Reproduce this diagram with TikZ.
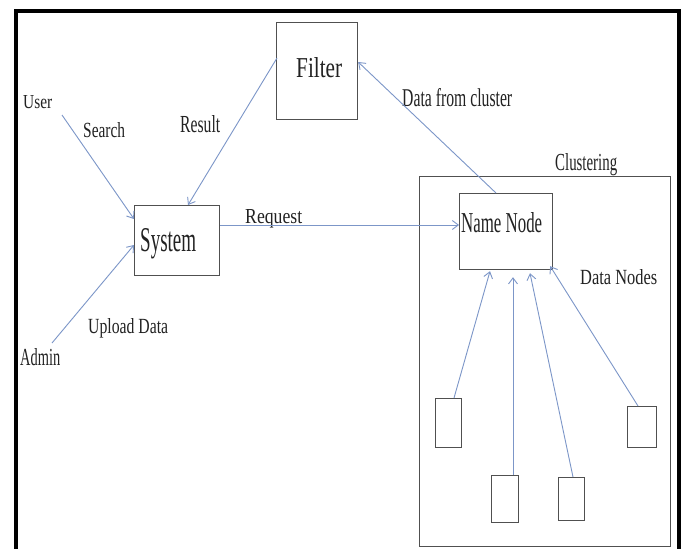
\documentclass[tikz,border=0pt]{standalone}
\usepackage{fontspec}
\setmainfont{Liberation Serif}
\usepackage{graphicx}
\usetikzlibrary{arrows.meta,calc}
\newcommand\fitxt[3]{\resizebox{#1pt}{#2pt}{#3}}
\definecolor{conncol}{HTML}{7C96C8}
\definecolor{boxcol}{HTML}{505050}
\definecolor{txtcol}{HTML}{222222}
\tikzset{
  box/.style={draw=boxcol, line width=1.2pt, rectangle, inner sep=0pt, anchor=north west},
  conn/.style={draw=conncol, line width=0.9pt, -{Straight Barb[length=6pt,width=9pt]}},
  lbl/.style={anchor=base west, inner sep=0pt, text=txtcol},
}
\begin{document}
\begin{tikzpicture}[x=1pt,y=-1pt]
\useasboundingbox (0,0) rectangle (683,549);
\fill[white] (0,0) rectangle (683,549);
% outer frame (open at the bottom)
\draw[black, line width=4.5pt] (16,560) -- (16,11) -- (679,11) -- (679,560);

% boxes
\node[box, minimum width=81pt, minimum height=97pt] (filter) at (276,22) {};
\node[box, minimum width=85pt, minimum height=70pt] (system) at (134,205) {};
\node[box, minimum width=93pt, minimum height=76pt] (namenode) at (459,193) {};
\node[box, minimum width=251pt, minimum height=370pt] (cluster) at (419,176) {};
\node[box, minimum width=26pt, minimum height=49pt] (dn1) at (435,398) {};
\node[box, minimum width=27pt, minimum height=47pt] (dn2) at (491,475) {};
\node[box, minimum width=26pt, minimum height=43pt] (dn3) at (558,477) {};
\node[box, minimum width=29pt, minimum height=41pt] (dn4) at (627,406) {};

% texts
\node[lbl] (tfilter) at (296,77) {\fitxt{46}{20}{Filter}};
\node[lbl] (tsystem) at (140,251) {\fitxt{56}{23}{System}};
\node[lbl] (tnamenode) at (461,232) {\fitxt{81}{20}{Name Node}};
\node[lbl] (tuser) at (23,108) {\fitxt{29}{13}{User}};
\node[lbl] (tsearch) at (83,137) {\fitxt{42}{15}{Search}};
\node[lbl] (tresult) at (180,132) {\fitxt{40}{17}{Result}};
\node[lbl] (tdfc) at (402,106) {\fitxt{110}{18}{Data from cluster}};
\node[lbl] (tclust) at (555,170) {\fitxt{62}{17}{Clustering}};
\node[lbl] (treq) at (245,223) {\fitxt{57}{14}{Request}};
\node[lbl] (tupload) at (88,333) {\fitxt{80}{15}{Upload Data}};
\node[lbl] (tadmin) at (20,365) {\fitxt{40}{17}{Admin}};
\node[lbl] (tdn) at (580,284) {\fitxt{77}{15}{Data Nodes}};

% free ends of actor connectors
\coordinate (userend) at (62,115);
\coordinate (adminend) at (52,343);

% connectors
\draw[conn] (userend) -- ($(system.north west)+(0,14)$);
\draw[conn] (adminend) -- ($(system.north west)+(0,40)$);
\draw[conn] ($(filter.north west)+(1,36)$) -- ($(system.north west)+(54,0)$);
\draw[conn] ($(namenode.north west)+(37,0)$) -- ($(filter.north east)+(0,40)$);
\draw[conn] ($(system.north east)+(0,20)$) -- ($(namenode.north west)+(0,32)$);
\draw[conn] ($(dn1.north west)+(19,0)$) -- ($(namenode.south west)+(31,1)$);
\draw[conn] ($(dn2.north west)+(22,0)$) -- ($(namenode.south west)+(54,7)$);
\draw[conn] ($(dn3.north west)+(15,0)$) -- ($(namenode.south west)+(71,3)$);
\draw[conn] ($(dn4.north west)+(11,0)$) -- ($(namenode.south east)+(-3,-4)$);
\end{tikzpicture}
\end{document}
